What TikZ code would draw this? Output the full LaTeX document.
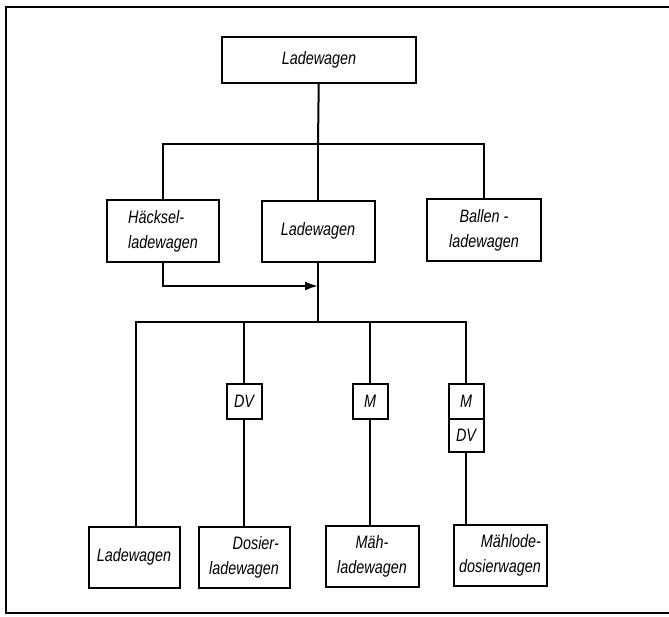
\documentclass[tikz,border=0pt]{standalone}
\usepackage{fontspec}
\newfontfamily\lettering[FakeStretch=0.8]{Liberation Sans}
\usetikzlibrary{positioning,arrows.meta}

\begin{document}
\begin{tikzpicture}[x=1pt,y=-1pt,line width=2pt]
\tikzstyle{box}=[draw, inner sep=0pt,
  font=\lettering\itshape\fontsize{18}{25}\selectfont]
\tikzstyle{tag}=[box, minimum width=35pt, minimum height=35pt]
\useasboundingbox (0,0) rectangle (669,616);

% frame
\draw[line width=2.5pt] (669,7) -- (6,7) -- (6,613) -- (669,613);

% top box
\node[box, minimum width=194pt, minimum height=46pt] (top) at (319,60) {Ladewagen};

% second row
\node[box, minimum width=112pt, minimum height=62pt, align=left]
  (hack) at (163,231) {Häcksel-\\ladewagen};
\node[box, minimum width=113pt, minimum height=61pt]
  (lade) at (318,231) {Ladewagen};
\node[box, minimum width=114pt, minimum height=62pt, align=center]
  (ball) at (484,230) {Ballen -\\ladewagen};

\coordinate (bus1) at (318,144);
\draw (top) -- (bus1);
\draw (hack.north) |- (bus1) -| (ball.north);
\draw (bus1) -- (lade.north);

% arrow into the middle line
\coordinate (join) at (318,286);
\draw[-{Latex[length=13pt,width=9pt]}] (hack.south) |- (join);

% bottom row
\node[box, minimum width=91pt, minimum height=61pt] (b1) at (134,557) {Ladewagen};
\node[box, minimum width=91pt, minimum height=61pt, align=right]
  (b2) at (244,557) {Dosier-\\ladewagen};
\node[box, minimum width=93pt, minimum height=61pt, align=center]
  (b3) at (372,556) {Mäh-\\ladewagen};
\node[box, minimum width=93pt, minimum height=61pt, align=right]
  (b4) at (500,555) {Mählode-\\dosierwagen};

% tags
\node[tag] (dv) at (244,401) {DV};
\node[tag] (m) at (370,401) {M};
\node[tag] (m4) at (466,401) {M};
\node[tag, minimum height=33pt, below=-2pt of m4] (dv4) {DV};

% lower bus
\coordinate (bus2) at (318,322);
\coordinate (c1) at (136,322);
\draw (lade.south) -- (bus2);
\draw (c1 |- b1.north) |- (bus2) -| (m4.north);
\draw (dv.north |- bus2) -- (dv.north)
      (dv.south) -- (dv.south |- b2.north);
\draw (m.north |- bus2) -- (m.north)
      (m.south) -- (m.south |- b3.north);
\draw (dv4.south) -- (dv4.south |- b4.north);
\end{tikzpicture}
\end{document}
